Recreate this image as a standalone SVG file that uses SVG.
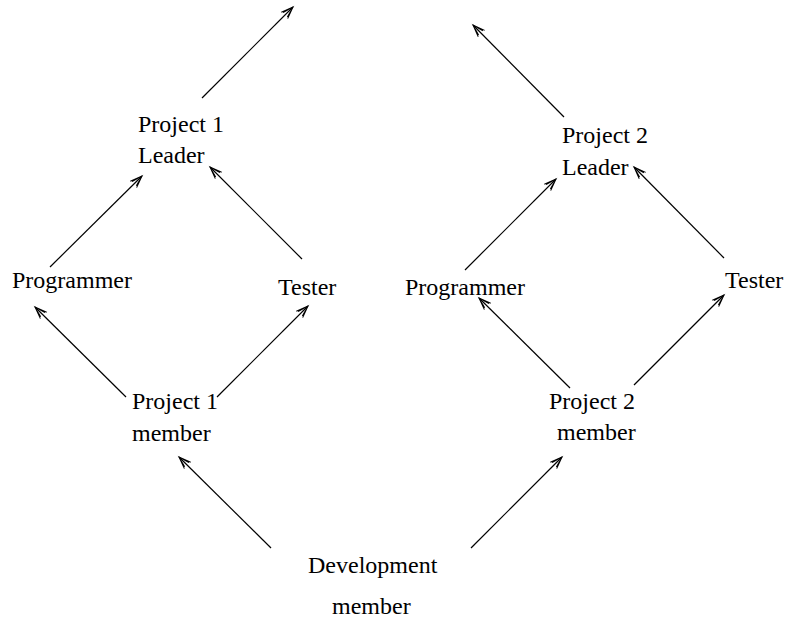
<svg xmlns="http://www.w3.org/2000/svg" width="787" height="620" viewBox="0 0 787 620">
  <style>
    text { font-family: "Liberation Serif", "Times New Roman", serif; font-size: 24px; fill: #000; }
    .edge { stroke: #000; stroke-width: 1.2; fill: none; marker-end: url(#open); }
  </style>
  <defs>
    <marker id="open" markerUnits="userSpaceOnUse" markerWidth="16" markerHeight="12" viewBox="-13 -6 15 12" refX="0" refY="0" orient="auto">
      <path d="M-12,-4.5 L0,0 L-12,4.5 M-11,-3 L0,0 L-11,3" fill="none" stroke="#000" stroke-width="1"/>
    </marker>
  </defs>
  <rect width="787" height="620" fill="#fff"/>

  <g id="connectors">
    <line class="edge" x1="202" y1="98" x2="293" y2="7"/>
    <line class="edge" x1="564" y1="117" x2="473" y2="25"/>
    <line class="edge" x1="50" y1="267" x2="142" y2="176"/>
    <line class="edge" x1="302" y1="259" x2="210" y2="167"/>
    <line class="edge" x1="465" y1="270" x2="556" y2="179"/>
    <line class="edge" x1="724" y1="258" x2="634" y2="167"/>
    <line class="edge" x1="126" y1="397" x2="35" y2="307"/>
    <line class="edge" x1="217" y1="397" x2="308" y2="306"/>
    <line class="edge" x1="570" y1="388" x2="479" y2="298"/>
    <line class="edge" x1="634" y1="385" x2="724" y2="295"/>
    <line class="edge" x1="271" y1="548" x2="179" y2="457"/>
    <line class="edge" x1="471" y1="548" x2="562" y2="457"/>
  </g>

  <g id="project1-leader">
    <text x="138" y="132">Project 1</text>
    <text x="138" y="163">Leader</text>
  </g>
  <g id="project2-leader">
    <text x="562" y="143">Project 2</text>
    <text x="562" y="175">Leader</text>
  </g>
  <g id="programmer1">
    <text x="12" y="288">Programmer</text>
  </g>
  <g id="tester1">
    <text x="278" y="295">Tester</text>
  </g>
  <g id="programmer2">
    <text x="405" y="295">Programmer</text>
  </g>
  <g id="tester2">
    <text x="725" y="288">Tester</text>
  </g>
  <g id="project1-member">
    <text x="132" y="409">Project 1</text>
    <text x="132" y="441">member</text>
  </g>
  <g id="project2-member">
    <text x="549" y="409">Project 2</text>
    <text x="557" y="440">member</text>
  </g>
  <g id="development-member">
    <text x="308" y="573">Development</text>
    <text x="332" y="614">member</text>
  </g>
</svg>
